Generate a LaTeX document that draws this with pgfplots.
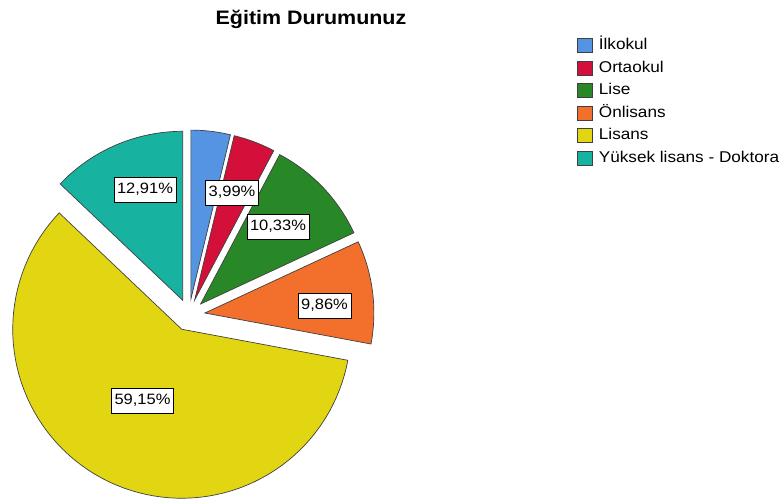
\documentclass[border=0pt]{standalone}
\usepackage{fontspec}
\setmainfont{Liberation Sans}[FakeStretch=1.1]
\usepackage{pgfplots}
\pgfplotsset{compat=1.18}
\usepackage{xcolor}

\definecolor{cIlk}{RGB}{84,148,226}
\definecolor{cOrta}{RGB}{212,16,58}
\definecolor{cLise}{RGB}{40,136,40}
\definecolor{cOnl}{RGB}{242,112,44}
\definecolor{cLis}{RGB}{226,214,18}
\definecolor{cYL}{RGB}{24,178,160}

\tikzset{pctlabel/.style={draw=black, fill=white, line width=0.6pt, inner xsep=3pt, inner ysep=5.5pt,
        text height=11pt, text depth=3pt, font=\fontsize{15}{18}\selectfont}}

% shares (%): Ilkokul 3.76, Ortaokul 3.99, Lise 10.33, Onlisans 9.86, Lisans 59.15, YL-Doktora 12.91
% slices run clockwise from 12 o'clock, each pulled out 16 units along its mid angle
% centre (189,185), radius 169, axis units = pixels
\begin{document}
\begin{tikzpicture}
\begin{axis}[
    width=782pt, height=500pt, scale only axis,
    xmin=0, xmax=782, ymin=0, ymax=500,
    hide axis, clip=false,
    every axis plot/.append style={draw=black!75, line width=0.7pt, samples=80, variable=\t},
    legend image code/.code={
        \draw[#1] (0pt,-7pt) rectangle (15pt,7pt);
        \path (21pt,0pt);},
    legend style={at={(axis cs:577,462)}, anchor=north west, draw=none, fill=none,
        font=\fontsize{15.6}{18}\selectfont, row sep=7.8pt, inner sep=0pt,
        nodes={inner sep=0pt, text height=11pt, text depth=3pt},
        cells={anchor=west}},
]
% Ilkokul 3.76
\addplot[fill=cIlk, domain=90:76.464]
  ({190.89+169*cos(\t)}, {200.89+169*sin(\t)}) -- (axis cs:190.89,200.89) -- cycle;
\addlegendentry{İlkokul}
% Ortaokul 3.99
\addplot[fill=cOrta, domain=76.464:62.1]
  ({194.66+169*cos(\t)}, {199.97+169*sin(\t)}) -- (axis cs:194.66,199.97) -- cycle;
\addlegendentry{Ortaokul}
% Lise 10.33
\addplot[fill=cLise, domain=62.1:24.912]
  ({200.61+169*cos(\t)}, {196.01+169*sin(\t)}) -- (axis cs:200.61,196.01) -- cycle;
\addlegendentry{Lise}
% Onlisans 9.86
\addplot[fill=cOnl, domain=24.912:-10.584]
  ({204.88+169*cos(\t)}, {187.00+169*sin(\t)}) -- (axis cs:204.88,187.00) -- cycle;
\addlegendentry{Önlisans}
% Lisans 59.15
\addplot[fill=cLis, domain=-10.584:-223.524]
  ({181.72+169*cos(\t)}, {170.75+169*sin(\t)}) -- (axis cs:181.72,170.75) -- cycle;
\addlegendentry{Lisans}
% Yuksek lisans - Doktora 12.91
\addplot[fill=cYL, domain=136.476:90]
  ({182.69+169*cos(\t)}, {199.70+169*sin(\t)}) -- (axis cs:182.69,199.70) -- cycle;
\addlegendentry{Yüksek lisans - Doktora}

\node[font=\bfseries\fontsize{19.5}{22}\selectfont] at (axis cs:311,481) {Eğitim Durumunuz};
\node[pctlabel] at (axis cs:145,310) {12,91\%};
\node[pctlabel] at (axis cs:232,307.5) {3,99\%};
\node[pctlabel] at (axis cs:278,273.5) {10,33\%};
\node[pctlabel] at (axis cs:324.5,194) {9,86\%};
\node[pctlabel] at (axis cs:142.5,99) {59,15\%};
\end{axis}
\pgfresetboundingbox
\useasboundingbox (0,0) rectangle (782pt,500pt);
\end{tikzpicture}
\end{document}
